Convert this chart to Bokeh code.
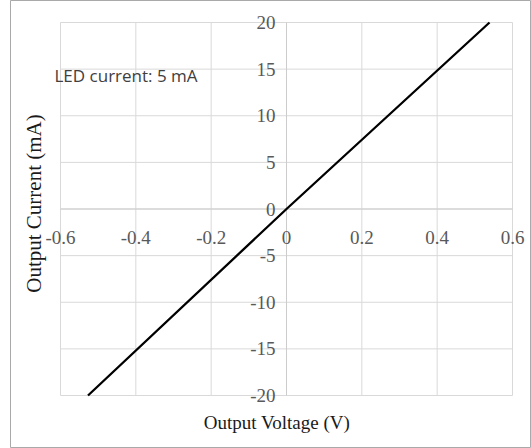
from bokeh.plotting import figure
from bokeh.models import Range1d
from bokeh.core.properties import value
from bokeh.embed import file_html
from bokeh.resources import INLINE

# ---- data ----
voltage = [-0.527, 0.0, 0.539]
current = [-20.0, 0.0, 20.0]
x_ticks = [-0.6, -0.4, -0.2, 0.0, 0.2, 0.4, 0.6]
x_tick_labels = ["-0.6", "-0.4", "-0.2", "0", "0.2", "0.4", "0.6"]
y_ticks = [-20, -15, -10, -5, 0, 5, 10, 15, 20]
y_tick_labels = ["-20", "-15", "-10", "-5", "0", "5", "10", "15", "20"]
x_title = "Output Voltage (V)"
y_title = "Output Current (mA)"
note = "LED current: 5 mA"

# ---- layout (canvas pixels) ----
W, H = 531, 448
frame_left, frame_right = 10, 530
frame_top, frame_bottom = 0, 447
plot_left, plot_right = 60, 512
plot_top, plot_bottom = 22, 395

xs = (plot_right - plot_left) / (x_ticks[-1] - x_ticks[0])
ys = (plot_bottom - plot_top) / (y_ticks[-1] - y_ticks[0])

def px_to_x(px):
    return x_ticks[0] + (px - plot_left) / xs

def py_to_y(py):
    return y_ticks[-1] - (py - plot_top) / ys

p = figure(width=W, height=H, output_backend="svg", toolbar_location=None,
           x_range=Range1d(px_to_x(frame_left), px_to_x(frame_right)),
           y_range=Range1d(py_to_y(frame_bottom), py_to_y(frame_top)),
           min_border_left=frame_left, min_border_right=W - frame_right,
           min_border_top=frame_top, min_border_bottom=H - frame_bottom)
p.axis.visible = False
p.grid.visible = False
p.outline_line_color = "#a9a9a9"
p.outline_line_width = 1
p.background_fill_color = "white"
p.border_fill_color = "white"

grid_color = "#d9d9d9"
p.segment(x0=x_ticks, y0=[y_ticks[0]] * len(x_ticks), x1=x_ticks, y1=[y_ticks[-1]] * len(x_ticks),
          line_color=grid_color, line_width=1)
p.segment(x0=[x_ticks[0]] * len(y_ticks), y0=y_ticks, x1=[x_ticks[-1]] * len(y_ticks), y1=y_ticks,
          line_color=grid_color, line_width=1)
p.segment(x0=[0], y0=[y_ticks[0]], x1=[0], y1=[y_ticks[-1]], line_color="#cccccc", line_width=1)
p.segment(x0=[x_ticks[0]], y0=[0], x1=[x_ticks[-1]], y1=[0], line_color="#cccccc", line_width=1)

p.line(voltage, current, line_color="black", line_width=2.3)

serif = value("Liberation Serif")
p.text(x=[0] * len(y_ticks), y=y_ticks, text=y_tick_labels, text_font=serif,
       text_font_size="19px", text_color="#595959", text_align="right",
       text_baseline="middle", x_offset=-11)
p.text(x=x_ticks, y=[0] * len(x_ticks), text=x_tick_labels, text_font=serif,
       text_font_size="19px", text_color="#595959", text_align="center",
       text_baseline="middle", y_offset=28)

p.text(x=[px_to_x(276.5)], y=[py_to_y(422)], text=[x_title], text_font=serif,
       text_font_size="19px", text_color="#1a1a1a", text_align="center",
       text_baseline="middle")
p.text(x=[px_to_x(33)], y=[py_to_y(203)], text=[y_title], text_font=serif,
       text_font_size="21px", text_color="#1a1a1a", text_align="center",
       text_baseline="middle", angle=1.5707963)

p.text(x=[px_to_x(54)], y=[py_to_y(75)], text=[note], text_font=value("Open Sans"),
       text_font_size="17px", text_color="#404040", text_align="left",
       text_baseline="middle")

open("out.html", "w").write(file_html(p, INLINE))
